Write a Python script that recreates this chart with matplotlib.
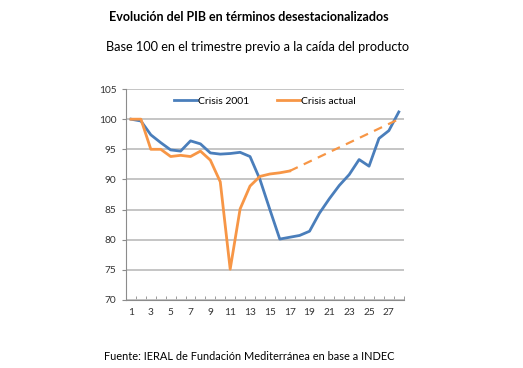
import matplotlib.pyplot as plt
from matplotlib.lines import Line2D

# Trimestres desde el previo a la caída
trimestres = list(range(1, 29))
crisis_2001 = [100.0, 99.7, 97.4, 96.1, 94.9, 94.7, 96.4, 95.9, 94.4, 94.2,
               94.3, 94.5, 93.8, 90.0, 85.0, 80.1, 80.4, 80.7, 81.4, 84.4,
               86.8, 89.0, 90.8, 93.3, 92.2, 96.8, 98.1, 101.2]
trim_actual = list(range(1, 18))
crisis_actual = [100.0, 100.0, 95.0, 95.0, 93.8, 94.0, 93.8, 94.7, 93.2, 89.6,
                 75.1, 85.1, 88.9, 90.5, 90.9, 91.1, 91.4]
# tramo proyectado (línea punteada)
trim_proy = [17, 28]
proyeccion = [91.4, 100.0]

yticks = [70, 75, 80, 85, 90, 95, 100, 105]
xticks = list(range(1, 29, 2))

blue = "#4a7ebb"
orange = "#f79646"
font = "Lato"

fig = plt.figure(figsize=(5.23, 3.68), dpi=100)
ax = fig.add_axes([0.241, 0.185, 0.531, 0.573])

ax.plot(trimestres, crisis_2001, color=blue, lw=2.0, solid_joinstyle="round")
ax.plot(trim_actual, crisis_actual, color=orange, lw=2.0, solid_joinstyle="round")
ax.plot(trim_proy, proyeccion, color=orange, lw=1.6, ls=(0, (4, 3)))

ax.set_xlim(0.5, 28.5)
ax.set_ylim(70, 105)
ax.set_yticks(yticks)
ax.set_xticks(xticks)
ax.set_xticks([i + 0.5 for i in range(0, 29)], minor=True)
ax.grid(axis="y", color="#c0c0c0", lw=1.3)
ax.set_axisbelow(True)

for s in ["top", "right"]:
    ax.spines[s].set_visible(False)
for s in ["left", "bottom"]:
    ax.spines[s].set_color("#8c8c8c")
    ax.spines[s].set_linewidth(0.8)

ax.tick_params(axis="x", which="major", length=0, pad=6)
ax.tick_params(axis="x", which="minor", length=3, color="#8c8c8c", direction="in")
ax.tick_params(axis="y", length=3, color="#8c8c8c", pad=4)
for lab in ax.get_xticklabels() + ax.get_yticklabels():
    lab.set_fontfamily(font)
    lab.set_fontsize(7.3)
    lab.set_color("#333333")

handles = [Line2D([], [], color=blue, lw=2.0), Line2D([], [], color=orange, lw=2.0)]
ax.legend(handles, ["Crisis 2001", "Crisis actual"], loc="upper center",
          bbox_to_anchor=(0.5, 1.0), ncol=2, frameon=False, handlelength=2.2,
          handletextpad=0.1, columnspacing=2.6, borderaxespad=0.3,
          prop={"family": font, "size": 7.5})

fig.text(0.475, 0.955, "Evolución del PIB en términos desestacionalizados",
         ha="center", va="center", fontsize=9, fontweight="bold", family=font)
fig.text(0.493, 0.872, "Base 100 en el trimestre previo a la caída del producto",
         ha="center", va="center", fontsize=9.2, family=font)
fig.text(0.476, 0.030, "Fuente: IERAL de Fundación Mediterránea en base a INDEC",
         ha="center", va="center", fontsize=7.9, family=font)

fig.savefig("out.png", dpi=100)
